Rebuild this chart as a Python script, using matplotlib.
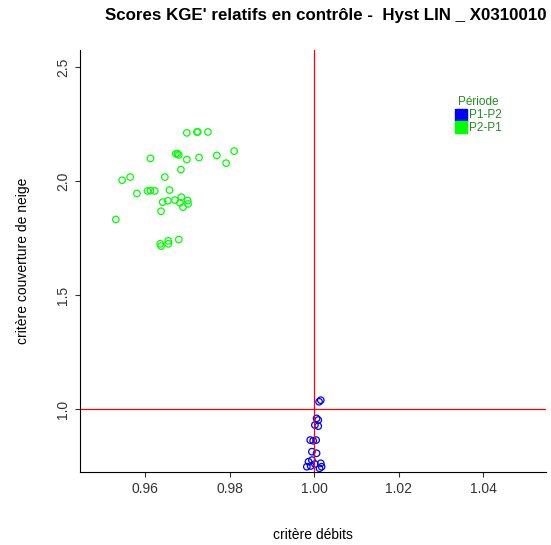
import matplotlib.pyplot as plt
plt.rcParams['font.family'] = ['Liberation Sans', 'DejaVu Sans']

g_x = [0.9699,0.9723,0.9725,0.9749,0.9613,0.9673,0.9677,0.9680,0.9699,0.9728,0.9770,0.9811,0.9792,0.9685,
       0.9546,0.9565,0.9647,0.9581,0.9606,0.9613,0.9623,0.9658,0.9642,0.9654,0.9671,0.9686,0.9683,0.9701,
       0.9702,0.9690,0.9638,0.9531,0.9636,0.9638,0.9655,0.9655,0.9680]
g_y = [2.212,2.216,2.216,2.216,2.100,2.120,2.121,2.115,2.095,2.104,2.113,2.132,2.079,2.051,
       2.004,2.018,2.018,1.946,1.957,1.959,1.957,1.961,1.908,1.914,1.917,1.930,1.905,1.915,
       1.900,1.886,1.868,1.832,1.725,1.715,1.738,1.725,1.744]
b_x = [1.0016,1.0012,1.0006,1.0010,1.0002,1.0010,0.9991,0.9998,1.0005,0.9995,1.0006,0.9987,0.9995,
       0.9983,0.9992,1.0002,1.0016,1.0018,1.0013]
b_y = [1.039,1.032,0.959,0.952,0.930,0.925,0.864,0.861,0.864,0.813,0.806,0.769,0.776,
       0.747,0.750,0.759,0.762,0.747,0.740]

fig = plt.figure(figsize=(5.51, 5.45), dpi=100)
ax = fig.add_axes([0.145, 0.134, 0.846, 0.774])
ax.scatter(g_x, g_y, s=22, facecolors='none', edgecolors='#00ff00', linewidths=0.9)
ax.scatter(b_x, b_y, s=22, facecolors='none', edgecolors='#0000ff', linewidths=0.9)
ax.axvline(1.0, color='red', lw=0.9)
ax.axhline(1.0, color='red', lw=0.9)
ax.set_xlim(0.9446, 1.0549)
ax.set_ylim(0.724, 2.575)
ax.set_xticks([0.96,0.98,1.00,1.02,1.04])
ax.set_xticklabels(['0.96','0.98','1.00','1.02','1.04'])
ax.set_yticks([1.0,1.5,2.0,2.5])
ax.set_yticklabels(['1.0','1.5','2.0','2.5'], rotation=90, va='center')
for s in ['top','right']:
    ax.spines[s].set_visible(False)
ax.tick_params(labelsize=10, colors='#333333')
ax.set_xlabel('critère débits', fontsize=10, labelpad=23)
ax.set_ylabel('critère couverture de neige', fontsize=10, labelpad=19)
fig.text(0.592, 0.972, "Scores KGE' relatifs en contrôle -  Hyst LIN _ X0310010",
         ha='center', va='center', fontsize=12.2, fontweight='bold')
h1 = ax.scatter([], [], marker='s', s=80, color='#0000ff')
h2 = ax.scatter([], [], marker='s', s=80, color='#00ff00')
leg = ax.legend([h1, h2], ['P1-P2', 'P2-P1'], title='Période', frameon=False,
                loc='upper left', bbox_to_anchor=(0.785, 0.91), fontsize=8.5, title_fontsize=8.5,
                handletextpad=0.1, labelspacing=0.05, borderpad=0.2, handlelength=1.2)
leg.get_title().set_color('#228B22')
for t in leg.get_texts():
    t.set_color('#228B22')
fig.savefig('out.png', dpi=100)
